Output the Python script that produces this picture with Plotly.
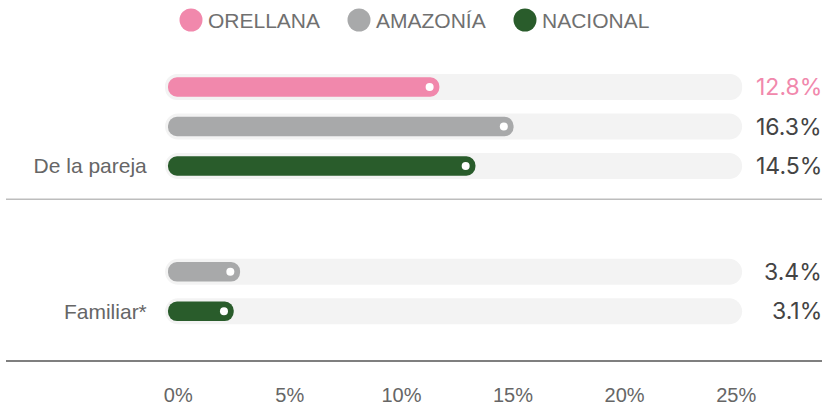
import plotly.graph_objects as go

# ---------------- data ----------------
categories = ["De la pareja", "Familiar*"]
series_names = ["ORELLANA", "AMAZONÍA", "NACIONAL"]
orellana = [12.8, None]
amazonia = [16.3, 3.4]
nacional = [14.5, 3.1]
tick_values = [0, 5, 10, 15, 20, 25]
tick_labels = ["0%", "5%", "10%", "15%", "20%", "25%"]

series_values = [orellana, amazonia, nacional]

# ---------------- styles ----------------
colors = ["#F188AC", "#A8A9AA", "#295C2B"]
value_colors = ["#F188AC", "#444444", "#444444"]
TRACK_COLOR = "#F3F3F3"
LABEL_COLOR = "#666666"

W, H = 827, 406
ML, MR, MT, MB = 155, 6, 50, 45
PW = W - ML - MR
PH = H - MT - MB

BAR_RANGE = [-0.613, 30.80]
TICK_RANGE = [-1.04, 28.80]
K = PW / (BAR_RANGE[1] - BAR_RANGE[0])  # px per data unit on bar axis

GROUP_STEP = 3.68
Y_RANGE = [6.937, -0.937]
ROW_PX = PH / (Y_RANGE[0] - Y_RANGE[1])

BAR_PX = 19.5
TRACK_PX = 26
TRACK_START = -0.14
TRACK_END = 27.08
DOT_SIZE = 8

fig = go.Figure()


def round_bar(y, x_start, x_end, thickness_px, color):
    wy = thickness_px / ROW_PX
    fig.add_trace(go.Bar(y=[y], base=[x_start], x=[x_end - x_start], orientation="h", width=[wy],
                         hoverinfo="skip", showlegend=False,
                         marker=dict(color=color, cornerradius=thickness_px / 2, line=dict(width=0))))


def row_y(g, s):
    return g * GROUP_STEP + s


# tracks first
for s, vals in enumerate(series_values):
    for g, v in enumerate(vals):
        if v is None:
            continue
        round_bar(row_y(g, s), TRACK_START, TRACK_END, TRACK_PX, TRACK_COLOR)

# coloured bars
for s, vals in enumerate(series_values):
    for g, v in enumerate(vals):
        if v is None:
            continue
        round_bar(row_y(g, s), 0, v, BAR_PX, colors[s])

# white dots at bar ends
for s, vals in enumerate(series_values):
    xs, ys = [], []
    for g, v in enumerate(vals):
        if v is None:
            continue
        xs.append(v - (BAR_PX / 2) / K)
        ys.append(row_y(g, s))
    fig.add_trace(go.Scatter(x=xs, y=ys, mode="markers", hoverinfo="skip", showlegend=False,
                             marker=dict(color="white", size=DOT_SIZE, line=dict(width=0))))

# dummy trace on tick axis
fig.add_trace(go.Scatter(x=[None], y=[None], xaxis="x2", yaxis="y", showlegend=False, hoverinfo="skip"))

annotations = []
# value labels
for s, vals in enumerate(series_values):
    for g, v in enumerate(vals):
        if v is None:
            continue
        annotations.append(dict(
            x=1, xref="paper", xanchor="right", xshift=3, y=row_y(g, s), yref="y", yanchor="middle",
            text=f"{v:.1f}%", showarrow=False,
            font=dict(family="Inter", size=23, color=value_colors[s])))

# manual legend
legend_centers_px = [191, 359, 525]
shapes = []
for i, name in enumerate(series_names):
    cx = (legend_centers_px[i] - ML) / PW
    cy = (H - MB - 20) / PH
    shapes.append(dict(type="circle", xref="paper", yref="paper", xsizemode="pixel", ysizemode="pixel",
                       xanchor=cx, yanchor=cy, x0=-11.5, x1=11.5, y0=-11.5, y1=11.5,
                       fillcolor=colors[i], line=dict(width=0)))
    annotations.append(dict(x=(legend_centers_px[i] + 15 - ML) / PW, xref="paper", xanchor="left",
                            y=cy, yref="paper", yanchor="middle", text=name, showarrow=False,
                            font=dict(family="Liberation Sans", size=21, color="#707070")))

# separators
shapes.append(dict(type="line", xref="paper", yref="y", x0=(6 - ML) / PW, x1=(822 - ML) / PW,
                   y0=(2 + GROUP_STEP) / 2, y1=(2 + GROUP_STEP) / 2,
                   line=dict(color="#BDBDBD", width=1.5)))
shapes.append(dict(type="line", xref="paper", yref="paper", x0=(6 - ML) / PW, x1=(822 - ML) / PW,
                   y0=0, y1=0, line=dict(color="#555555", width=1.5)))

fig.update_layout(
    width=W, height=H, autosize=False,
    margin=dict(l=ML, r=MR, t=MT, b=MB, pad=0, autoexpand=False),
    barmode="overlay",
    plot_bgcolor="white", paper_bgcolor="white",
    showlegend=False,
    font=dict(family="Liberation Sans", color=LABEL_COLOR),
    xaxis=dict(range=BAR_RANGE, visible=False, fixedrange=True),
    xaxis2=dict(range=TICK_RANGE, overlaying="x", anchor="y", side="bottom",
                tickvals=tick_values, ticktext=tick_labels, showgrid=False, zeroline=False,
                showline=False, ticks="outside", ticklen=16, tickcolor="rgba(0,0,0,0)",
                tickfont=dict(family="Liberation Sans", size=20, color=LABEL_COLOR), fixedrange=True),
    yaxis=dict(range=Y_RANGE, tickvals=[row_y(g, 2) for g in range(len(categories))],
               ticktext=categories, showgrid=False, zeroline=False, showline=False,
               ticks="outside", ticklen=3, tickcolor="rgba(0,0,0,0)",
               tickfont=dict(family="Liberation Sans", size=21, color=LABEL_COLOR), fixedrange=True),
    shapes=shapes,
    annotations=annotations,
)

fig.write_html("out.html", config={"responsive": False, "displayModeBar": False},
               post_script="document.body.style.margin='0';document.body.style.padding='0';")
